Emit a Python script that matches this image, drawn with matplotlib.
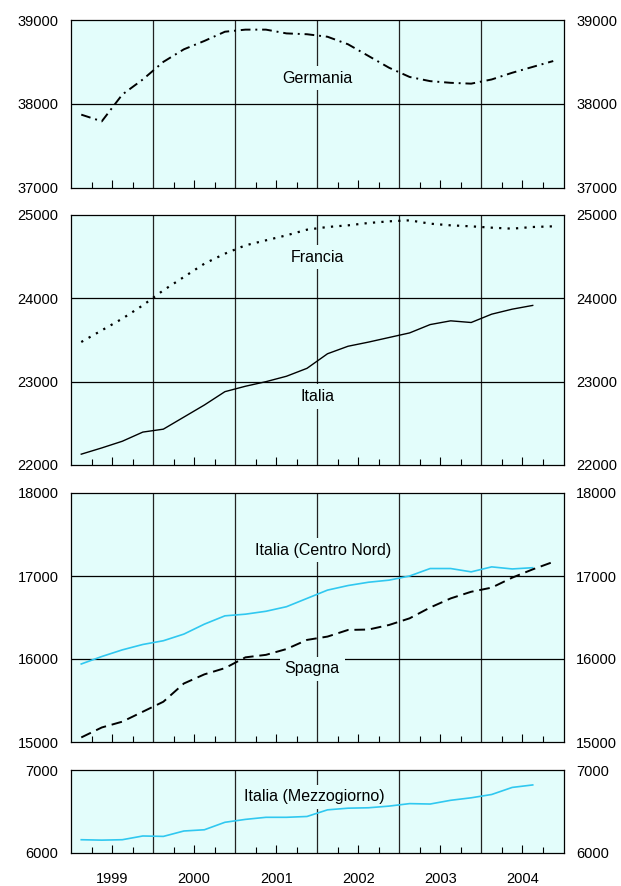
import matplotlib
matplotlib.use("Agg")
import matplotlib.pyplot as plt
import numpy as np

plt.rcParams['font.family'] = ['Liberation Sans', 'DejaVu Sans']

# quarterly data 1999Q1 - 2004Q4
years = [1999, 2000, 2001, 2002, 2003, 2004]

germania = [37870, 37790, 38110, 38290,
            38500, 38650, 38750, 38860,
            38885, 38885, 38840, 38830,
            38800, 38710, 38570, 38430,
            38320, 38270, 38250, 38240,
            38290, 38370, 38440, 38510]

francia = [23476, 23616, 23756, 23916,
           24096, 24256, 24416, 24536,
           24636, 24696, 24756, 24824,
           24856, 24876, 24904, 24924,
           24936, 24896, 24876, 24864,
           24848, 24836, 24856, 24864]

italia = [22130, 22205, 22285, 22395,
          22430, 22575, 22720, 22880,
          22945, 23000, 23065, 23160,
          23335, 23425, 23475, 23530,
          23585, 23685, 23730, 23710,
          23810, 23870, 23915]

centro_nord = [15940, 16030, 16110, 16175,
               16220, 16300, 16420, 16520,
               16540, 16575, 16630, 16730,
               16830, 16885, 16925, 16950,
               17000, 17090, 17090, 17050,
               17110, 17085, 17100]

spagna = [15055, 15175, 15245, 15365,
          15485, 15705, 15815, 15890,
          16020, 16050, 16120, 16230,
          16270, 16350, 16355, 16410,
          16490, 16620, 16730, 16810,
          16860, 16980, 17080, 17170]

mezzogiorno = [6160, 6155, 6160, 6205,
               6200, 6265, 6280, 6370,
               6405, 6430, 6430, 6440,
               6520, 6540, 6545, 6565,
               6595, 6590, 6635, 6665,
               6705, 6790, 6820]

bg = '#e3fdfb'
cyan = '#30c8f0'


def qx(vals):
    return 1999 + (np.arange(len(vals)) + 0.5) / 4


fig = plt.figure(figsize=(6.21, 8.86), dpi=100)
W, H = 621, 886
left, right = 71, 563.5


def make_ax(top, bottom):
    return fig.add_axes([left / W, 1 - bottom / H, (right - left) / W, (bottom - top) / H])


panels = [
    (make_ax(20, 187.5), (37000, 39000), [38000]),
    (make_ax(215, 465), (22000, 25000), [23000, 24000]),
    (make_ax(493, 742), (15000, 18000), [16000, 17000]),
    (make_ax(770, 853), (6000, 7000), []),
]

for i, (ax, ylim, hlines) in enumerate(panels):
    ax.set_facecolor(bg)
    ax.set_xlim(1999, 2005)
    ax.set_ylim(*ylim)
    yt = list(range(ylim[0], ylim[1] + 1, 1000))
    ax.set_yticks(yt)
    ax.set_yticklabels([str(v) for v in yt])
    ax.tick_params(axis='y', length=0, pad=9, labelsize=10.5, labelright=True, right=False)
    for y in years[1:]:
        ax.axvline(y, color='#222222', lw=0.9, zorder=1)
    for h in hlines:
        ax.axhline(h, color='black', lw=0.9, zorder=1)
    # ticks: long at mid-year, short at quarters
    ax.set_xticks([y + 0.5 for y in years])
    ax.set_xticks([y + q for y in years for q in (0.25, 0.75)], minor=True)
    ax.tick_params(axis='x', which='major', direction='in', length=6, width=0.8, pad=14,
                   labelsize=10.5)
    ax.tick_params(axis='x', which='minor', direction='in', length=4, width=0.8)
    if i == 3:
        ax.set_xticklabels([str(y) for y in years])
    else:
        ax.set_xticklabels([])
    for s in ax.spines.values():
        s.set_linewidth(0.9)

box = dict(boxstyle='square,pad=0.3', fc=bg, ec='none')
lab = dict(ha='center', va='center', fontsize=11.5, zorder=2, bbox=box)

ax = panels[0][0]
ax.plot(qx(germania), germania, color='black', lw=1.4, ls=(0, (5, 2.5, 1, 2.5)), zorder=3)
ax.text(2002.0, 38305, 'Germania', **lab)

ax = panels[1][0]
ax.plot(qx(francia), francia, color='black', lw=1.6, ls=(0, (1, 2.8)), zorder=3)
ax.plot(qx(italia), italia, color='black', lw=1.0, zorder=3)
ax.text(2002.0, 24494, 'Francia', **lab)
ax.text(2002.0, 22820, 'Italia', **lab)

ax = panels[2][0]
ax.plot(qx(centro_nord), centro_nord, color=cyan, lw=1.2, zorder=3)
ax.plot(qx(spagna), spagna, color='black', lw=1.4, ls=(0, (5.5, 3)), zorder=3)
ax.text(2002.07, 17313, 'Italia (Centro Nord)', **lab)
ax.text(2001.94, 15880, 'Spagna', **lab)

ax = panels[3][0]
ax.plot(qx(mezzogiorno), mezzogiorno, color=cyan, lw=1.2, zorder=3)
ax.text(2001.96, 6675, 'Italia (Mezzogiorno)', **lab)

fig.savefig('out.png', dpi=100)
